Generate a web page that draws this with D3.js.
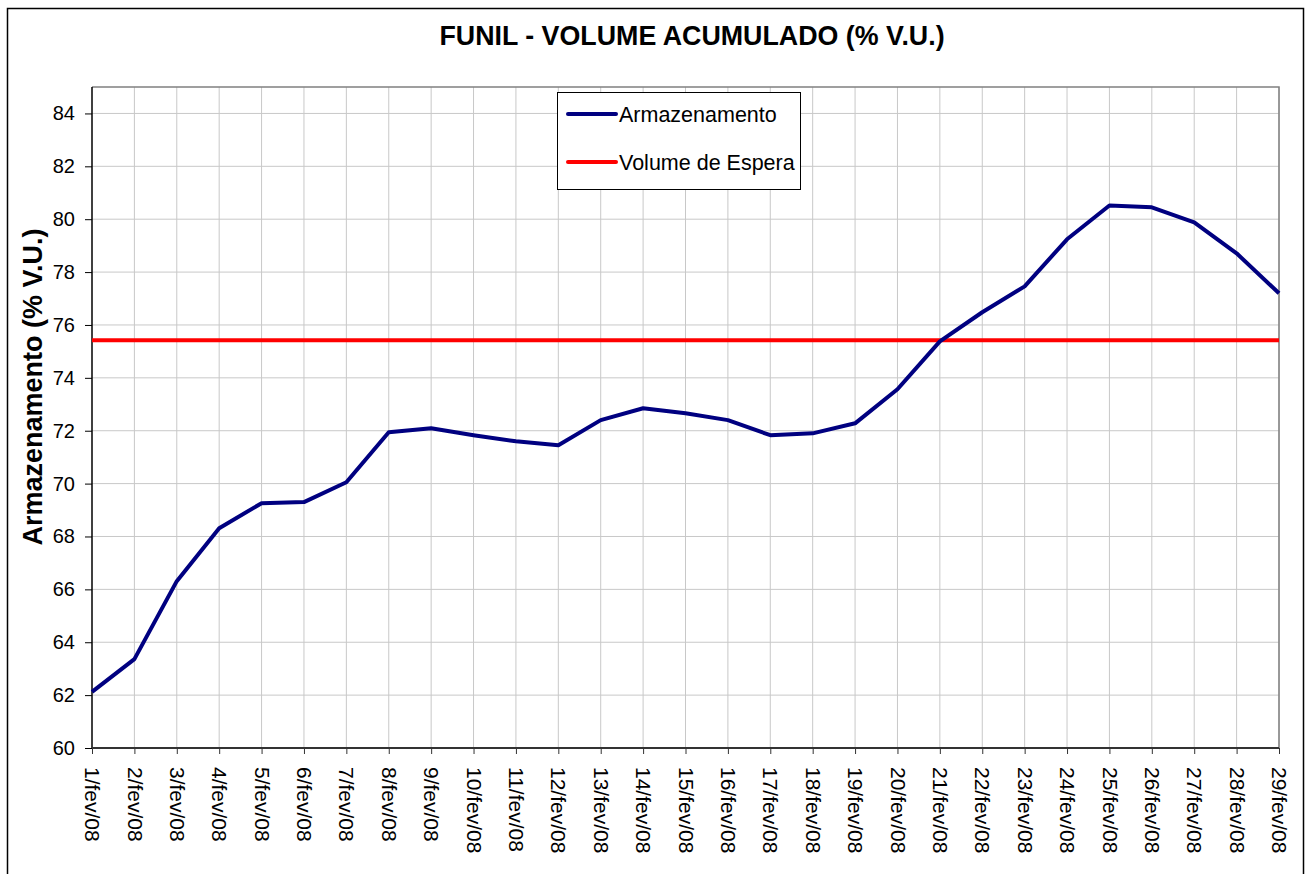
<!DOCTYPE html>
<html>
<head>
<meta charset="utf-8">
<script src="https://cdn.jsdelivr.net/npm/d3@7"></script>
<style>
  body { margin: 0; background: #fff; }
  text { font-family: Arial, "Liberation Sans", sans-serif; }
</style>
</head>
<body>
<svg id="chart"></svg>
<script>
var days = d3.range(1, 30);
var dayLabels = days.map(function (d) { return d + "/fev/08"; });
var armazenamento = [
  62.12, 63.36, 66.31, 68.31, 69.26, 69.30, 70.05, 71.94, 72.09, 71.83,
  71.60, 71.45, 72.40, 72.85, 72.66, 72.40, 71.83, 71.90, 72.28, 73.57,
  75.38, 76.48, 77.46, 79.24, 80.52, 80.45, 79.88, 78.71, 77.20
];
var volumeEspera = 75.42;
var yTicks = [60, 62, 64, 66, 68, 70, 72, 74, 76, 78, 80, 82, 84];
var seriesNames = ["Armazenamento", "Volume de Espera"];
var seriesColors = ["#000080", "#ff0000"];

var width = 1311;
var height = 874;
var plot = { left: 92, top: 87, right: 1279, bottom: 748 };

var svg = d3.select("#chart").attr("width", width).attr("height", height);

// outer frame
svg.append("rect")
  .attr("x", 7.5).attr("y", 8.5)
  .attr("width", 1296).attr("height", 880)
  .attr("fill", "#fff")
  .attr("stroke", "#000")
  .attr("stroke-width", 1.5);

var xScale = d3.scaleLinear().domain([1, 29]).range([plot.left, plot.right]);
var yScale = d3.scaleLinear().domain([60, 85]).range([plot.bottom, plot.top]);

// grid
svg.append("g").selectAll("line.v")
  .data(days.slice(1))
  .enter().append("line")
  .attr("x1", function (d) { return xScale(d); })
  .attr("x2", function (d) { return xScale(d); })
  .attr("y1", plot.top).attr("y2", plot.bottom)
  .style("stroke", "#c8c8c8").style("stroke-width", 1);

svg.append("g").selectAll("line.h")
  .data(yTicks.slice(1))
  .enter().append("line")
  .attr("x1", plot.left).attr("x2", plot.right)
  .attr("y1", function (d) { return yScale(d); })
  .attr("y2", function (d) { return yScale(d); })
  .style("stroke", "#c8c8c8").style("stroke-width", 1);

// plot border top/right
svg.append("path")
  .attr("d", "M" + plot.left + "," + plot.top + "H" + plot.right + "V" + plot.bottom)
  .attr("fill", "none")
  .style("stroke", "#808080").style("stroke-width", 1.5);

// axes
var yAxis = d3.axisLeft(yScale).tickValues(yTicks).tickSize(7).tickPadding(10);
var gy = svg.append("g").attr("transform", "translate(" + plot.left + ",0)").call(yAxis);
gy.select(".domain").remove();
gy.append("line").attr("x1", 0).attr("x2", 0).attr("y1", plot.top).attr("y2", plot.bottom)
  .style("stroke", "#000").style("stroke-width", 1.5);
gy.selectAll(".tick line").style("stroke", "#000");
gy.selectAll("text").style("font-size", "20px").style("fill", "#000")
  .style("font-family", "Arial, 'Liberation Sans', sans-serif");

var xAxis = d3.axisBottom(xScale).tickValues(days).tickSize(6)
  .tickFormat(function (d, i) { return dayLabels[i]; });
var gx = svg.append("g").attr("transform", "translate(0," + plot.bottom + ")").call(xAxis);
gx.select(".domain").remove();
gx.append("line").attr("x1", plot.left).attr("x2", plot.right).attr("y1", 0).attr("y2", 0)
  .style("stroke", "#333").style("stroke-width", 2);
gx.selectAll(".tick line").style("stroke", "#333");
gx.selectAll("text")
  .attr("transform", "rotate(90)")
  .attr("x", 19).attr("y", 0).attr("dy", "0.35em")
  .style("text-anchor", "start")
  .style("font-size", "21px").style("fill", "#000")
  .style("font-family", "Arial, 'Liberation Sans', sans-serif");

// red reference line
svg.append("line")
  .attr("x1", xScale(1)).attr("x2", xScale(29))
  .attr("y1", yScale(volumeEspera)).attr("y2", yScale(volumeEspera))
  .style("stroke", seriesColors[1]).style("stroke-width", 4);

// data line
var line = d3.line()
  .x(function (d, i) { return xScale(days[i]); })
  .y(function (d) { return yScale(d); });
svg.append("path")
  .datum(armazenamento)
  .attr("d", line)
  .attr("fill", "none")
  .style("stroke", seriesColors[0]).style("stroke-width", 4)
  .style("stroke-linejoin", "round");

// legend
var lg = svg.append("g");
lg.append("rect")
  .attr("x", 557.5).attr("y", 92.5).attr("width", 243).attr("height", 97)
  .attr("fill", "#fff").attr("stroke", "#000").attr("stroke-width", 1);
for (var i = 0; i < seriesNames.length; i++) {
  var ly = 114 + i * 48;
  lg.append("line")
    .attr("x1", 568).attr("x2", 616).attr("y1", ly).attr("y2", ly)
    .style("stroke", seriesColors[i]).style("stroke-width", 4)
    .style("stroke-linecap", "round");
  lg.append("text")
    .attr("x", 619).attr("y", ly).attr("dy", "0.35em")
    .style("font-size", "21.5px")
    .text(seriesNames[i]);
}

// title
svg.append("text")
  .attr("x", 692).attr("y", 45)
  .attr("text-anchor", "middle")
  .style("font-size", "26.8px").style("font-weight", "bold")
  .text("FUNIL - VOLUME ACUMULADO (% V.U.)");

// y label
svg.append("text")
  .attr("transform", "translate(42,387)rotate(-90)")
  .attr("text-anchor", "middle")
  .style("font-size", "27px").style("font-weight", "bold")
  .text("Armazenamento (% V.U.)");
</script>
</body>
</html>
